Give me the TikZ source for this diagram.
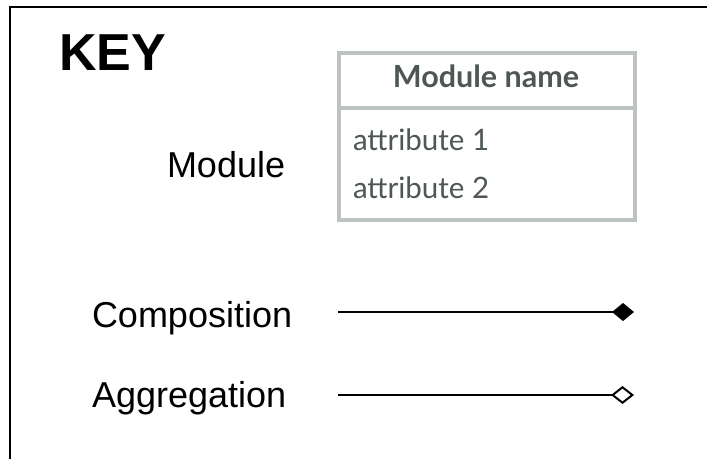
\documentclass[tikz,border=0pt]{standalone}
\usepackage{fontspec}
\setmainfont{Liberation Sans}
\newfontfamily\boxfont{Lato}
\usetikzlibrary{arrows.meta,positioning}
\definecolor{BoxGray}{HTML}{BDC3C3}
\definecolor{BoxText}{HTML}{4F5656}

\begin{document}
\begin{tikzpicture}[x=1pt, y=-1pt, every node/.style={inner sep=0pt, outer sep=0pt},
  keylabel/.style={font=\fontsize{36}{40}\selectfont, anchor=base west},
  modpart/.style={draw=BoxGray, line width=4pt, minimum width=296pt},
  attr/.style={font=\boxfont\fontsize{29.5}{32}\selectfont, text=BoxText, anchor=base west},
  link/.style={line width=2pt}]
  \useasboundingbox (0,0) rectangle (707,459);
  \draw[line width=2pt] (707,7) -- (10,7) -- (10,459);
  \node[font=\bfseries\fontsize{52}{58}\selectfont, anchor=base west] (key) at (59,70) {KEY};
  \node[modpart, minimum height=55pt] (modhead) at (487,80.5) {};
  \node[modpart, minimum height=112pt, below=0pt of modhead] (modbody) {};
  \node[font=\boxfont\bfseries\fontsize{30.5}{34}\selectfont, text=BoxText, anchor=base] (modname) at (486,87) {Module name};
  \node[attr] (attr1) at (353,150) {attribute 1};
  \node[attr] (attr2) at (353,198) {attribute 2};
  \node[keylabel] (module) at (167,177) {Module};
  \node[keylabel] (comp) at (92,327) {Composition};
  \node[keylabel] (aggr) at (92,407) {Aggregation};
  \coordinate (compA) at (338,312);
  \coordinate (compB) at (634,312);
  \coordinate (aggrA) at (338,395);
  \coordinate (aggrB) at (634,395);
  \draw[link, -{Diamond[length=22pt,width=18pt,line width=0pt]}] (compA) -- (compB);
  \draw[link, -{Diamond[open,length=23pt,width=18pt]}] (aggrA) -- (aggrB);
\end{tikzpicture}
\end{document}
